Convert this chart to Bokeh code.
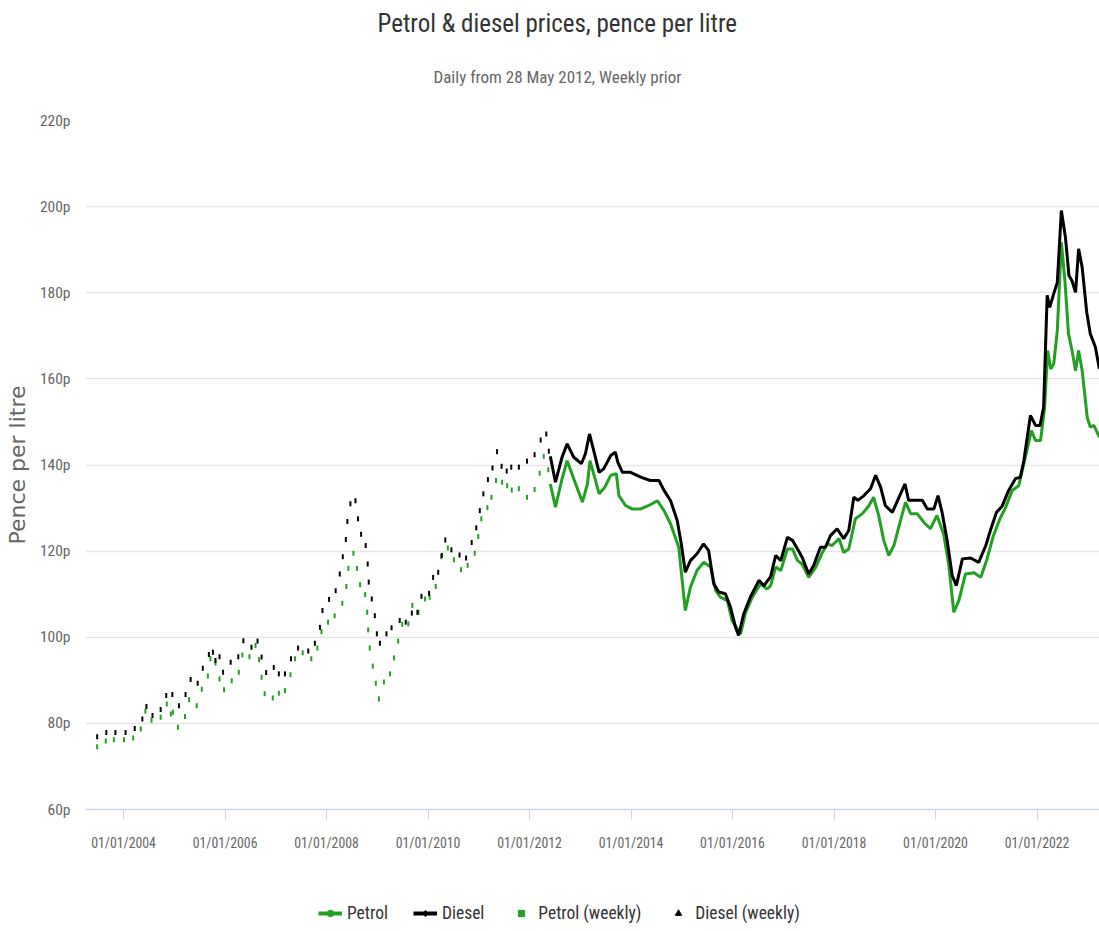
import numpy as np
import pandas as pd
from bokeh.plotting import figure
from bokeh.layouts import column
from bokeh.models import (Range1d, FixedTicker, DatetimeTickFormatter, Title, Legend,
                          LegendItem, PrintfTickFormatter)
from bokeh.embed import file_html
from bokeh.resources import INLINE

# ---------------- data (decimal years, pence per litre) ----------------
petrol_weekly_year = [2003.48, 2003.65, 2003.81, 2004.01, 2004.19, 2004.34, 2004.43, 2004.55, 2004.73, 2004.85,
                      2004.93, 2004.97, 2005.07, 2005.21, 2005.29, 2005.44, 2005.54, 2005.66, 2005.71, 2005.81,
                      2005.89, 2005.98, 2006.13, 2006.27, 2006.34, 2006.48, 2006.60, 2006.67, 2006.72, 2006.78,
                      2006.94, 2007.06, 2007.18, 2007.29, 2007.38, 2007.53, 2007.70, 2007.82, 2007.90, 2008.03,
                      2008.16, 2008.31, 2008.39, 2008.43, 2008.53, 2008.60, 2008.66, 2008.76, 2008.80, 2008.82,
                      2008.85, 2008.91, 2008.97, 2009.03, 2009.13, 2009.25, 2009.33, 2009.41, 2009.49, 2009.61,
                      2009.69, 2009.81, 2009.94, 2010.03, 2010.15, 2010.26, 2010.39, 2010.51, 2010.65, 2010.78,
                      2010.92, 2010.99, 2011.05, 2011.17, 2011.25, 2011.34, 2011.46, 2011.56, 2011.65, 2011.79,
                      2011.95, 2012.10, 2012.20, 2012.28, 2012.37]
petrol_weekly = [74.6, 75.9, 76.2, 76.2, 76.6, 78.7, 82.8, 80.7, 81.4, 84.5,
                 82.2, 82.6, 79.1, 81.6, 85.5, 84.1, 87.9, 91.0, 95.0, 94.0,
                 90.3, 87.8, 89.9, 91.9, 95.9, 95.5, 98.1, 94.8, 90.7, 86.9,
                 85.9, 87.0, 87.6, 91.3, 95.0, 96.4, 95.0, 97.5, 101.3, 103.5,
                 105.0, 107.9, 111.8, 116.0, 119.5, 116.0, 112.2, 109.9, 105.8, 101.7,
                 97.5, 93.3, 89.3, 85.7, 89.6, 91.5, 95.2, 99.1, 103.0, 103.1,
                 107.4, 105.8, 108.9, 109.3, 111.8, 118.7, 120.7, 118.0, 115.7, 116.7,
                 119.5, 123.4, 127.5, 130.1, 132.5, 136.4, 136.0, 135.2, 134.2, 134.5,
                 132.5, 134.3, 138.1, 142.0, 138.9]

diesel_weekly_year = [2003.48, 2003.66, 2003.84, 2004.04, 2004.22, 2004.37, 2004.45, 2004.57, 2004.73, 2004.84,
                      2004.96, 2005.09, 2005.22, 2005.32, 2005.46, 2005.56, 2005.68, 2005.76, 2005.81, 2005.89,
                      2005.96, 2006.11, 2006.26, 2006.36, 2006.52, 2006.64, 2006.72, 2006.81, 2006.96, 2007.06,
                      2007.18, 2007.30, 2007.44, 2007.64, 2007.77, 2007.87, 2007.92, 2008.05, 2008.18, 2008.26,
                      2008.32, 2008.38, 2008.41, 2008.47, 2008.57, 2008.62, 2008.68, 2008.77, 2008.81, 2008.83,
                      2008.89, 2008.95, 2008.99, 2009.05, 2009.18, 2009.28, 2009.44, 2009.56, 2009.68, 2009.79,
                      2009.87, 2010.02, 2010.10, 2010.20, 2010.27, 2010.34, 2010.46, 2010.62, 2010.75, 2010.86,
                      2010.95, 2011.02, 2011.09, 2011.18, 2011.27, 2011.36, 2011.45, 2011.55, 2011.64, 2011.79,
                      2011.95, 2012.10, 2012.22, 2012.33, 2012.38]
diesel_weekly = [76.9, 77.9, 77.9, 77.9, 78.8, 81.0, 83.9, 81.8, 83.2, 86.5,
                 86.7, 84.1, 86.7, 90.2, 89.3, 92.8, 96.0, 96.5, 94.6, 95.5,
                 91.9, 94.2, 95.5, 99.2, 97.7, 99.1, 95.4, 91.8, 93.0, 91.5,
                 91.5, 95.0, 97.5, 96.8, 98.6, 102.3, 106.2, 108.8, 110.8, 114.7,
                 118.7, 122.7, 126.9, 131.0, 131.7, 127.5, 123.9, 121.3, 117.0, 112.8,
                 108.9, 105.0, 100.8, 98.6, 100.8, 102.2, 103.9, 103.5, 105.6, 105.8,
                 109.5, 110.2, 113.9, 115.1, 119.0, 122.6, 120.3, 119.1, 118.4, 122.0,
                 125.4, 129.4, 133.3, 136.6, 139.3, 143.1, 139.7, 138.6, 139.5, 139.5,
                 140.9, 142.4, 145.8, 147.2, 143.2]

petrol_daily_year = [2012.41, 2012.51, 2012.64, 2012.74, 2012.87, 2013.04, 2013.14, 2013.19, 2013.29, 2013.37,
                     2013.48, 2013.60, 2013.71, 2013.76, 2013.89, 2014.02, 2014.19, 2014.35, 2014.52, 2014.65,
                     2014.78, 2014.94, 2015.07, 2015.17, 2015.30, 2015.43, 2015.57, 2015.67, 2015.76, 2015.90,
                     2015.99, 2016.09, 2016.16, 2016.26, 2016.39, 2016.55, 2016.68, 2016.75, 2016.85, 2016.95,
                     2017.08, 2017.18, 2017.28, 2017.37, 2017.50, 2017.64, 2017.77, 2017.87, 2017.96, 2018.10,
                     2018.19, 2018.29, 2018.42, 2018.56, 2018.69, 2018.78, 2018.88, 2018.98, 2019.08, 2019.18,
                     2019.31, 2019.41, 2019.51, 2019.64, 2019.77, 2019.90, 2020.03, 2020.16, 2020.26, 2020.36,
                     2020.46, 2020.59, 2020.76, 2020.89, 2021.01, 2021.13, 2021.26, 2021.38, 2021.51, 2021.64,
                     2021.77, 2021.89, 2021.97, 2022.07, 2022.15, 2022.21, 2022.27, 2022.33, 2022.40, 2022.48,
                     2022.55, 2022.62, 2022.69, 2022.76, 2022.82, 2022.89, 2022.99, 2023.05, 2023.12, 2023.23]
petrol_daily = [135.6, 130.2, 136.8, 141.0, 136.8, 131.4, 135.6, 141.0, 136.8, 133.3,
                134.8, 137.6, 138.0, 132.9, 130.6, 129.8, 129.8, 130.6, 131.7, 129.4,
                126.3, 120.9, 106.2, 111.6, 115.5, 117.4, 116.3, 110.8, 109.3, 108.5,
                103.9, 102.0, 100.8, 105.8, 109.3, 112.4, 111.2, 112.0, 116.3, 115.5,
                120.5, 120.5, 117.8, 117.0, 113.9, 116.3, 119.7, 121.7, 121.3, 122.9,
                119.7, 120.5, 127.5, 128.7, 130.6, 132.5, 128.3, 122.5, 119.0, 121.3,
                127.1, 131.4, 128.7, 128.7, 126.7, 125.2, 128.3, 124.0, 117.0, 105.8,
                108.5, 114.7, 115.0, 113.9, 118.0, 123.2, 127.3, 130.1, 134.1, 135.2,
                141.8, 148.0, 145.7, 145.7, 153.4, 166.6, 162.3, 163.5, 171.2, 191.7,
                182.8, 170.5, 166.6, 161.9, 166.6, 161.9, 151.1, 148.8, 149.2, 146.5]

diesel_daily_year = [2012.41, 2012.51, 2012.64, 2012.74, 2012.87, 2013.02, 2013.10, 2013.18, 2013.28, 2013.37,
                     2013.46, 2013.60, 2013.69, 2013.74, 2013.83, 2013.99, 2014.19, 2014.38, 2014.55, 2014.65,
                     2014.78, 2014.91, 2014.99, 2015.07, 2015.17, 2015.30, 2015.43, 2015.53, 2015.63, 2015.73,
                     2015.86, 2015.96, 2016.06, 2016.12, 2016.22, 2016.35, 2016.52, 2016.62, 2016.75, 2016.85,
                     2016.95, 2017.08, 2017.18, 2017.28, 2017.37, 2017.50, 2017.60, 2017.73, 2017.83, 2017.93,
                     2018.06, 2018.19, 2018.29, 2018.39, 2018.47, 2018.59, 2018.72, 2018.82, 2018.92, 2019.01,
                     2019.15, 2019.28, 2019.40, 2019.47, 2019.57, 2019.74, 2019.84, 2019.97, 2020.05, 2020.13,
                     2020.23, 2020.33, 2020.41, 2020.53, 2020.69, 2020.85, 2020.99, 2021.08, 2021.20, 2021.31,
                     2021.44, 2021.58, 2021.67, 2021.74, 2021.87, 2021.97, 2022.06, 2022.13, 2022.20, 2022.25,
                     2022.33, 2022.40, 2022.48, 2022.56, 2022.63, 2022.69, 2022.76, 2022.82, 2022.89, 2022.98,
                     2023.05, 2023.15, 2023.23]
diesel_daily = [142.0, 136.0, 141.8, 144.9, 141.8, 140.3, 142.6, 147.2, 142.6, 138.3,
                139.1, 142.2, 143.0, 140.6, 138.3, 138.3, 137.2, 136.4, 136.4, 134.1,
                131.7, 127.1, 121.7, 115.1, 117.8, 119.4, 121.7, 120.1, 112.4, 110.5,
                110.1, 107.0, 102.3, 100.4, 105.4, 109.3, 113.2, 112.0, 114.1, 119.0,
                117.8, 123.2, 122.5, 120.5, 118.6, 114.7, 116.7, 120.9, 120.9, 123.6,
                125.2, 122.9, 124.8, 132.5, 131.8, 132.9, 134.5, 137.6, 134.8, 130.6,
                129.0, 132.5, 135.6, 131.8, 131.8, 131.8, 129.8, 129.8, 132.9, 129.0,
                122.5, 114.3, 112.0, 118.2, 118.4, 117.4, 121.3, 124.8, 129.0, 130.4,
                134.1, 136.9, 137.1, 141.0, 151.5, 149.2, 149.2, 153.4, 179.4, 176.6,
                179.8, 182.4, 199.1, 192.9, 184.0, 182.8, 180.1, 190.2, 185.9, 175.5,
                170.5, 167.4, 162.3]

y_tick_values = [60, 80, 100, 120, 140, 160, 180, 200, 220]
x_tick_years = [2004, 2006, 2008, 2010, 2012, 2014, 2016, 2018, 2020, 2022]
series_names = ["Petrol", "Diesel", "Petrol (weekly)", "Diesel (weekly)"]


def to_dt(years):
    out = []
    for v in years:
        y = int(np.floor(v))
        a = pd.Timestamp(year=y, month=1, day=1)
        b = pd.Timestamp(year=y + 1, month=1, day=1)
        out.append(a + (b - a) * (v - y))
    return out


GREEN = "#22a022"
BLACK = "#000000"
FONT = "Roboto Condensed, Roboto"

x_start = to_dt([2003.25])[0]
x_end = to_dt([2023.232])[0]

MAIN_H = 880
LEG_H = 931 - MAIN_H

p = figure(width=1099, height=MAIN_H, x_axis_type="datetime",
           x_range=Range1d(x_start, x_end), y_range=Range1d(60, 220),
           output_backend="svg", toolbar_location=None,
           min_border_left=85, min_border_right=0, min_border_top=120, min_border_bottom=MAIN_H - 809)
p.outline_line_color = None
p.background_fill_color = "white"

# titles (the later-added title sits closer to the plot)
p.title.text = "Petrol & diesel prices, pence per litre"
p.title.align = "left"
p.title.text_font = FONT
p.title.text_font_size = "25px"
p.title.text_font_style = "normal"
p.title.text_color = "#333333"
p.title.offset = 292
p.title.standoff = -12
p.add_layout(Title(text="Daily from 28 May 2012, Weekly prior", align="left",
                   text_font=FONT, text_font_size="17px", text_font_style="normal",
                   text_color="#666666", offset=348, standoff=67), "above")

# axes
tick_ms = [pd.Timestamp(year=y, month=1, day=1).timestamp() * 1000 for y in x_tick_years]
p.xaxis.ticker = FixedTicker(ticks=tick_ms)
fmt = "%d/%m/%Y"
p.xaxis.formatter = DatetimeTickFormatter(milliseconds=fmt, seconds=fmt, minsec=fmt, minutes=fmt,
                                          hourmin=fmt, hours=fmt, days=fmt, months=fmt, years=fmt)
p.xaxis.axis_line_color = "#ccd6eb"
p.xaxis.axis_line_width = 1.5
p.xaxis.major_tick_line_color = "#ccd6eb"
p.xaxis.major_tick_out = 10
p.xaxis.major_tick_in = 0
p.xaxis.minor_tick_line_color = None
p.xaxis.minor_tick_out = 0
p.xaxis.major_label_text_font = FONT
p.xaxis.major_label_text_font_size = "13.8px"
p.xaxis.major_label_text_color = "#666666"
p.xaxis.major_label_standoff = 15

p.yaxis.ticker = FixedTicker(ticks=y_tick_values)
p.yaxis.formatter = PrintfTickFormatter(format="%dp")
p.yaxis.axis_line_color = None
p.yaxis.major_tick_line_color = None
p.yaxis.minor_tick_line_color = None
p.yaxis.major_tick_out = 0
p.yaxis.minor_tick_out = 0
p.yaxis.major_label_text_font = FONT
p.yaxis.major_label_text_font_size = "15.5px"
p.yaxis.major_label_text_color = "#666666"
p.yaxis.major_label_standoff = 15
p.yaxis.axis_label = "Pence per litre"
p.yaxis.axis_label_text_font = "DejaVu Sans"
p.yaxis.axis_label_text_font_size = "22px"
p.yaxis.axis_label_text_font_style = "normal"
p.yaxis.axis_label_text_color = "#666666"
p.yaxis.axis_label_standoff = 7

p.xgrid.grid_line_color = None
p.ygrid.grid_line_color = "#e6e6e6"
p.ygrid.grid_line_width = 1.5

# series
p.line(to_dt(petrol_daily_year), petrol_daily, line_color=GREEN, line_width=3)
p.line(to_dt(diesel_daily_year), diesel_daily, line_color=BLACK, line_width=3)
p.scatter(to_dt(petrol_weekly_year), petrol_weekly, marker="dash", angle=np.pi / 2,
          size=5, line_color=GREEN, line_width=2)
p.scatter(to_dt(diesel_weekly_year), diesel_weekly, marker="dash", angle=np.pi / 2,
          size=5, line_color=BLACK, line_width=2)

# ---------------- legend strip below the chart ----------------
# legend-symbol renderers sit outside this strip's visible range, only their legend swatches show
leg = figure(width=1099, height=LEG_H, x_range=Range1d(0, 1), y_range=Range1d(0, 1),
             x_axis_type=None, y_axis_type=None, output_backend="svg", toolbar_location=None,
             min_border=0)
leg.outline_line_color = None
leg.grid.visible = False

off_x = [5, 6]
off_y = [5, 5]
l_p = leg.line(x=off_x, y=off_y, line_color=GREEN, line_width=4)
s_p = leg.scatter(x=off_x, y=off_y, marker="circle", size=13, fill_color=GREEN, line_color=GREEN)
l_d = leg.line(x=off_x, y=off_y, line_color=BLACK, line_width=4)
s_d = leg.scatter(x=off_x, y=off_y, marker="diamond", size=16, fill_color=BLACK, line_color=BLACK)
w_p = leg.scatter(x=off_x, y=off_y, marker="square", size=12, fill_color=GREEN, line_color=GREEN)
w_d = leg.scatter(x=off_x, y=off_y, marker="triangle", size=13, fill_color=BLACK, line_color=BLACK)

legend = Legend(items=[LegendItem(label=series_names[0], renderers=[l_p, s_p]),
                       LegendItem(label=series_names[1], renderers=[l_d, s_d]),
                       LegendItem(label=series_names[2], renderers=[w_p]),
                       LegendItem(label=series_names[3], renderers=[w_d])],
                orientation="horizontal", location=(233, 8),
                label_text_font=FONT, label_text_font_size="17.5px", label_text_color="#333333",
                glyph_width=24, glyph_height=16, label_standoff=5, spacing=25, padding=0, margin=0,
                border_line_color=None, background_fill_alpha=0)
leg.add_layout(legend)

layout = column(p, leg, spacing=0)
open("out.html", "w").write(file_html(layout, INLINE))
